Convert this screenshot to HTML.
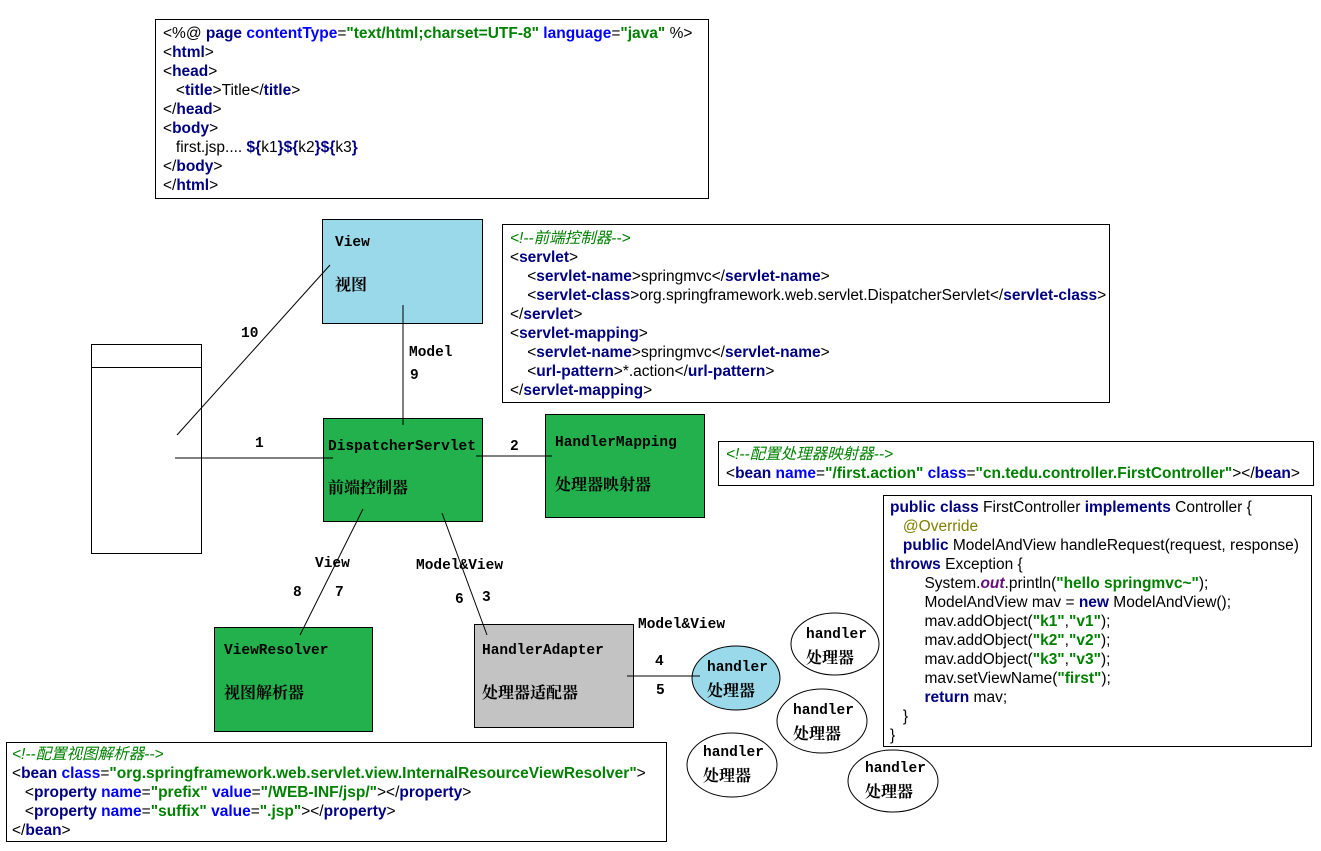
<!DOCTYPE html>
<html><head><meta charset="utf-8"><style>
body{margin:0;width:1321px;height:851px;background:#fff;position:relative;overflow:hidden}
.a{position:absolute}
.box{position:absolute;border:1px solid #000;box-sizing:border-box}
.code{font-family:"Liberation Sans","Noto Sans CJK SC",sans-serif;font-size:15.5px;line-height:19px;color:#000;white-space:pre;padding:4px 0 0 7px}
.k{color:#000080;font-weight:bold}
.n{color:#0000ff;font-weight:bold}
.v{color:#008000;font-weight:bold}
.cm{color:#008000;font-style:italic}
.an{color:#808000}
.m{font-family:"Liberation Mono","Noto Serif CJK SC",monospace;font-size:14.5px;color:#000;white-space:pre;font-weight:bold}
.z{font-family:"Noto Serif CJK SC","WenQuanYi Zen Hei",serif;font-size:16px;font-weight:bold;white-space:pre}
</style></head><body>
<svg class="a" style="left:0;top:0" width="1321" height="851">
<ellipse cx="736" cy="678" rx="44" ry="32" fill="#99d9ea" stroke="#000"/>
<ellipse cx="835" cy="644" rx="44" ry="31" fill="#fff" stroke="#000"/>
<ellipse cx="822" cy="721" rx="45" ry="32" fill="#fff" stroke="#000"/>
<ellipse cx="732" cy="765" rx="45" ry="32" fill="#fff" stroke="#000"/>
<ellipse cx="893" cy="781" rx="45" ry="31" fill="#fff" stroke="#000"/>
</svg>

<div class="box code" style="left:155px;top:19px;width:554px;height:180px"><span>&lt;%@ </span><span class="k">page </span><span class="n">contentType</span>=<span class="v">"text/html;charset=UTF-8"</span> <span class="n">language</span>=<span class="v">"java"</span> %&gt;
&lt;<span class="k">html</span>&gt;
&lt;<span class="k">head</span>&gt;
   &lt;<span class="k">title</span>&gt;Title&lt;/<span class="k">title</span>&gt;
&lt;/<span class="k">head</span>&gt;
&lt;<span class="k">body</span>&gt;
   first.jsp.... <span class="k">${</span>k1<span class="k">}${</span>k2<span class="k">}${</span>k3<span class="k">}</span>
&lt;/<span class="k">body</span>&gt;
&lt;/<span class="k">html</span>&gt;</div>

<div class="box" style="left:322px;top:219px;width:161px;height:105px;background:#99d9ea"></div>
<div class="a m" style="left:335px;top:235px">View</div>
<div class="a z" style="left:335px;top:272px">视图</div>

<div class="box" style="left:91px;top:344px;width:111px;height:210px"></div>
<div class="a" style="left:91px;top:367px;width:111px;height:1px;background:#000"></div>

<div class="box code" style="left:502px;top:224px;width:608px;height:179px"><span class="cm">&lt;!--前端控制器--&gt;</span>
&lt;<span class="k">servlet</span>&gt;
    &lt;<span class="k">servlet-name</span>&gt;springmvc&lt;/<span class="k">servlet-name</span>&gt;
    &lt;<span class="k">servlet-class</span>&gt;org.springframework.web.servlet.DispatcherServlet&lt;/<span class="k">servlet-class</span>&gt;
&lt;/<span class="k">servlet</span>&gt;
&lt;<span class="k">servlet-mapping</span>&gt;
    &lt;<span class="k">servlet-name</span>&gt;springmvc&lt;/<span class="k">servlet-name</span>&gt;
    &lt;<span class="k">url-pattern</span>&gt;*.action&lt;/<span class="k">url-pattern</span>&gt;
&lt;/<span class="k">servlet-mapping</span>&gt;</div>

<div class="box" style="left:323px;top:418px;width:160px;height:104px;background:#22b14c"></div>
<div class="a m" style="left:328px;top:439px">DispatcherServlet</div>
<div class="a z" style="left:328px;top:475px">前端控制器</div>

<div class="box" style="left:545px;top:414px;width:160px;height:104px;background:#22b14c"></div>
<div class="a m" style="left:555px;top:435px">HandlerMapping</div>
<div class="a z" style="left:555px;top:472px">处理器映射器</div>

<div class="box code" style="left:718px;top:441px;width:596px;height:45px;padding-top:3px"><span class="cm">&lt;!--配置处理器映射器--&gt;</span>
&lt;<span class="k">bean </span><span class="n">name</span>=<span class="v">"/first.action"</span> <span class="n">class</span>=<span class="v">"cn.tedu.controller.FirstController"</span>&gt;&lt;/<span class="k">bean</span>&gt;</div>

<div class="box code" style="left:883px;top:495px;width:429px;height:252px;padding-top:2px;padding-left:6px"><span class="k">public class </span>FirstController <span class="k">implements </span>Controller {
   <span class="an">@Override</span>
   <span class="k">public </span>ModelAndView handleRequest(request, response)
<span class="k">throws </span>Exception {
        System.<span style="color:#660e7a;font-weight:bold;font-style:italic">out</span>.println(<span class="v">"hello springmvc~"</span>);
        ModelAndView mav = <span class="k">new </span>ModelAndView();
        mav.addObject(<span class="v">"k1"</span>,<span class="v">"v1"</span>);
        mav.addObject(<span class="v">"k2"</span>,<span class="v">"v2"</span>);
        mav.addObject(<span class="v">"k3"</span>,<span class="v">"v3"</span>);
        mav.setViewName(<span class="v">"first"</span>);
        <span class="k">return </span>mav;
   }
}</div>

<div class="box" style="left:214px;top:627px;width:159px;height:105px;background:#22b14c"></div>
<div class="a m" style="left:224px;top:643px">ViewResolver</div>
<div class="a z" style="left:224px;top:680px">视图解析器</div>

<div class="box" style="left:474px;top:624px;width:160px;height:104px;background:#c3c3c3"></div>
<div class="a m" style="left:482px;top:643px">HandlerAdapter</div>
<div class="a z" style="left:482px;top:680px">处理器适配器</div>

<div class="box code" style="left:6px;top:742px;width:661px;height:100px;padding-top:2px;padding-left:5px"><span class="cm">&lt;!--配置视图解析器--&gt;</span>
&lt;<span class="k">bean </span><span class="n">class</span>=<span class="v">"org.springframework.web.servlet.view.InternalResourceViewResolver"</span>&gt;
   &lt;<span class="k">property </span><span class="n">name</span>=<span class="v">"prefix"</span> <span class="n">value</span>=<span class="v">"/WEB-INF/jsp/"</span>&gt;&lt;/<span class="k">property</span>&gt;
   &lt;<span class="k">property </span><span class="n">name</span>=<span class="v">"suffix"</span> <span class="n">value</span>=<span class="v">".jsp"</span>&gt;&lt;/<span class="k">property</span>&gt;
&lt;/<span class="k">bean</span>&gt;</div>

<svg class="a" style="left:0;top:0" width="1321" height="851">
<g stroke="#000" stroke-width="1" fill="none">
<line x1="177" y1="435" x2="330" y2="265"/>
<line x1="175" y1="458" x2="333" y2="458"/>
<line x1="403" y1="305" x2="403" y2="425"/>
<line x1="476" y1="456" x2="552" y2="456"/>
<line x1="363" y1="509" x2="300" y2="635"/>
<line x1="442" y1="513" x2="487" y2="635"/>
<line x1="627" y1="676" x2="700" y2="676"/>
</g>
</svg>

<div class="a m" style="left:241px;top:326px">10</div>
<div class="a m" style="left:409px;top:345px">Model</div>
<div class="a m" style="left:410px;top:368px">9</div>
<div class="a m" style="left:255px;top:436px">1</div>
<div class="a m" style="left:510px;top:439px">2</div>
<div class="a m" style="left:315px;top:556px">View</div>
<div class="a m" style="left:293px;top:585px">8</div>
<div class="a m" style="left:335px;top:585px">7</div>
<div class="a m" style="left:416px;top:558px">Model&amp;View</div>
<div class="a m" style="left:455px;top:592px">6</div>
<div class="a m" style="left:482px;top:590px">3</div>
<div class="a m" style="left:638px;top:617px">Model&amp;View</div>
<div class="a m" style="left:655px;top:654px">4</div>
<div class="a m" style="left:656px;top:683px">5</div>

<div class="a m" style="left:707px;top:660px">handler</div>
<div class="a z" style="left:707px;top:678px">处理器</div>
<div class="a m" style="left:806px;top:627px">handler</div>
<div class="a z" style="left:806px;top:645px">处理器</div>
<div class="a m" style="left:793px;top:703px">handler</div>
<div class="a z" style="left:793px;top:721px">处理器</div>
<div class="a m" style="left:703px;top:745px">handler</div>
<div class="a z" style="left:703px;top:763px">处理器</div>
<div class="a m" style="left:865px;top:761px">handler</div>
<div class="a z" style="left:865px;top:779px">处理器</div>
</body></html>
